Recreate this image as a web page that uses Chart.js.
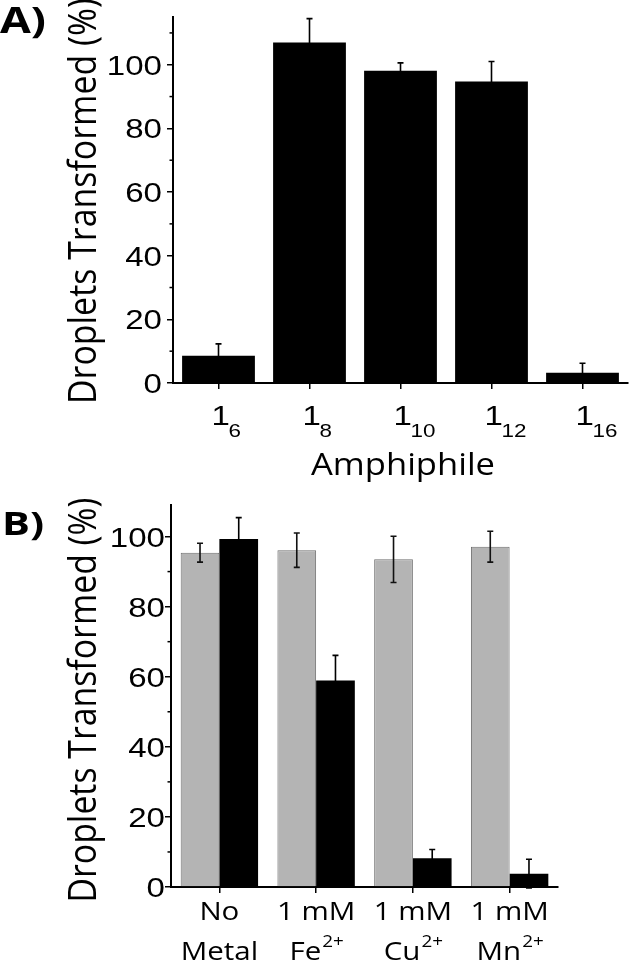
<!DOCTYPE html>
<html>
<head>
<meta charset="utf-8">
<script src="https://cdn.jsdelivr.net/npm/chart.js@4.4.1/dist/chart.umd.min.js"></script>
<style>
  body { margin: 0; background: #fff; }
  #wrap { position: relative; width: 629px; height: 962px; }
  canvas { position: absolute; left: 0; }
  #chartA { top: 0; }
  #chartB { top: 485px; }
</style>
</head>
<body>
<div id="wrap">
  <canvas id="chartA" width="629" height="485"></canvas>
  <canvas id="chartB" width="629" height="477"></canvas>
</div>
<script>
// Panel A data
const amphBase = ["1", "1", "1", "1", "1"];
const amphSub = ["6", "8", "10", "12", "16"];
const amphValues = [8.6, 107, 98.1, 94.7, 3.2];
const amphErrors = [3.7, 7.5, 2.5, 6.3, 3.0];

// Panel B data
const metalLine1 = ["No", "1 mM", "1 mM", "1 mM"];
const metalLine2 = ["Metal", "Fe", "Cu", "Mn"];
const metalCharge = ["", "2+", "2+", "2+"];
const greyValues = [95.4, 96.1, 93.5, 97.1];
const greyErrors = [2.7, 4.9, 6.6, 4.4];
const blackValues = [99.3, 58.9, 8.2, 3.8];
const blackErrors = [6.1, 7.2, 2.5, 4.1];

const yTicks = [0, 20, 40, 60, 80, 100];

// draw text, optionally stretched to a target width and thickened
function drawText(ctx, str, x, y, o) {
  ctx.save();
  ctx.translate(x, y);
  if (o.rot) ctx.rotate(o.rot);
  ctx.font = o.font;
  const m = ctx.measureText(str).width;
  const sx = o.w ? o.w / m : (o.sx || 1);
  ctx.scale(sx, o.sy || 1);
  ctx.textAlign = o.align || "left";
  ctx.textBaseline = "alphabetic";
  ctx.fillStyle = "#000";
  ctx.fillText(str, 0, 0);
  ctx.restore();
  return m * sx;
}

function measure(ctx, str, font, sx) {
  ctx.save();
  ctx.font = font;
  const w = ctx.measureText(str).width * sx;
  ctx.restore();
  return w;
}

function drawErrors(chart, ds, values, errors, color) {
  const ctx = chart.ctx;
  const y = chart.scales.y;
  const meta = chart.getDatasetMeta(ds);
  ctx.save();
  ctx.strokeStyle = color;
  ctx.lineWidth = 1.6;
  meta.data.forEach((bar, i) => {
    const top = y.getPixelForValue(values[i] + errors[i]);
    const bot = y.getPixelForValue(values[i] - errors[i]);
    ctx.beginPath();
    ctx.moveTo(bar.x, top); ctx.lineTo(bar.x, bot);
    ctx.moveTo(bar.x - 3, top); ctx.lineTo(bar.x + 3, top);
    ctx.moveTo(bar.x - 3, bot); ctx.lineTo(bar.x + 3, bot);
    ctx.stroke();
  });
  ctx.restore();
}

// minor ticks + tick labels
function drawYAxisExtras(chart, max, labelFont, labelRight, cap) {
  const ctx = chart.ctx;
  const y = chart.scales.y;
  const left = chart.chartArea.left;
  ctx.save();
  ctx.strokeStyle = "#000";
  ctx.lineWidth = 1.5;
  for (let v = 10; v < max; v += 20) {
    const p = y.getPixelForValue(v);
    ctx.beginPath();
    ctx.moveTo(left - 3.5, p); ctx.lineTo(left, p);
    ctx.stroke();
  }
  ctx.restore();
  yTicks.forEach(v => {
    const p = y.getPixelForValue(v);
    drawText(ctx, String(v), labelRight, p + cap / 2, { font: labelFont, align: "right", sx: 1.18 });
  });
}

function axisOpts(size, isY) {
  return {
    grid: { drawOnChartArea: false, offset: false, tickLength: 6, color: "#000", lineWidth: 1.5 },
    border: { color: "#000", width: 2 },
    ticks: isY ? { display: false, stepSize: 20, includeBounds: false } : { display: false },
    afterFit: s => { if (isY) s.width = size; else s.height = size; }
  };
}

const decoA = {
  id: "decoA",
  afterDraw(chart) {
    const ctx = chart.ctx;
    drawErrors(chart, 0, amphValues, amphErrors, "#000");
    drawYAxisExtras(chart, 115, "28px 'Liberation Sans'", 162, 20);
    const x = chart.scales.x;
    amphBase.forEach((b, i) => {
      const px = x.getPixelForValue(i);
      drawText(ctx, b, px - 7, 425, { font: "28px 'Liberation Sans'", sx: 1.18 });
      drawText(ctx, amphSub[i], px + 10, 437, { font: "19px 'Liberation Sans'", sx: 1.18 });
    });
    drawText(ctx, "Amphiphile", 403, 475, { font: "31px 'Open Sans'", align: "center", w: 184 });
    drawText(ctx, "Droplets Transformed (%)", 96, 201, { font: "33px 'Open Sans'", align: "center", rot: -Math.PI / 2, w: 406, sy: 1.15 });
    drawText(ctx, "A)", 0, 33, { font: "bold 35px 'Open Sans'", w: 46 });
  }
};

const decoB = {
  id: "decoB",
  afterDraw(chart) {
    const ctx = chart.ctx;
    drawErrors(chart, 0, greyValues, greyErrors, "#111");
    drawErrors(chart, 1, blackValues, blackErrors, "#000");
    drawYAxisExtras(chart, 109, "28px 'Liberation Sans'", 165, 20);
    const x = chart.scales.x;
    const big = "25px 'Open Sans'", small = "16px 'Open Sans'";
    const sx = 1.18;
    metalLine1.forEach((t, i) => {
      const px = x.getPixelForValue(i);
      drawText(ctx, t, px, 435, { font: big, align: "center", sx: sx });
      const w1 = measure(ctx, metalLine2[i], big, sx);
      const w2 = metalCharge[i] ? measure(ctx, metalCharge[i], small, sx) : 0;
      const start = px - (w1 + w2) / 2;
      drawText(ctx, metalLine2[i], start, 475, { font: big, sx: sx });
      if (metalCharge[i]) drawText(ctx, metalCharge[i], start + w1 + 1, 462, { font: small, sx: sx });
    });
    drawText(ctx, "Droplets Transformed (%)", 96, 215, { font: "33px 'Open Sans'", align: "center", rot: -Math.PI / 2, w: 405, sy: 1.15 });
    drawText(ctx, "B)", 2, 50, { font: "bold 32px 'Open Sans'", w: 42 });
  }
};

function build() {
  new Chart(document.getElementById("chartA"), {
    type: "bar",
    data: {
      labels: amphSub.map(s => "1" + s),
      datasets: [{
        data: amphValues,
        backgroundColor: "#000",
        borderWidth: 0,
        barPercentage: 0.8,
        categoryPercentage: 1.0
      }]
    },
    options: {
      responsive: false,
      animation: false,
      events: [],
      layout: { padding: { top: 17, right: 1, left: 0, bottom: 0 } },
      plugins: { legend: { display: false }, tooltip: { enabled: false } },
      scales: {
        x: axisOpts(102, false),
        y: Object.assign(axisOpts(173, true), { min: 0, max: 115 })
      }
    },
    plugins: [decoA]
  });

  new Chart(document.getElementById("chartB"), {
    type: "bar",
    data: {
      labels: metalLine1.map((t, i) => t + " " + metalLine2[i] + metalCharge[i]),
      datasets: [
        {
          data: greyValues,
          backgroundColor: "#b4b4b4",
          borderColor: "#6f6f6f",
          borderWidth: 1,
          barPercentage: 1.0,
          categoryPercentage: 0.8
        },
        {
          data: blackValues,
          backgroundColor: "#000",
          borderWidth: 0,
          barPercentage: 1.0,
          categoryPercentage: 0.8
        }
      ]
    },
    options: {
      responsive: false,
      animation: false,
      events: [],
      layout: { padding: { top: 20, right: 71, left: 0, bottom: 0 } },
      plugins: { legend: { display: false }, tooltip: { enabled: false } },
      scales: {
        x: axisOpts(75, false),
        y: Object.assign(axisOpts(171, true), { min: 0, max: 109 })
      }
    },
    plugins: [decoB]
  });
}

Promise.all([
  document.fonts.load("28px 'Liberation Sans'"),
  document.fonts.load("25px 'Open Sans'"),
  document.fonts.load("bold 32px 'Open Sans'")
]).then(build, build);
</script>
</body>
</html>
